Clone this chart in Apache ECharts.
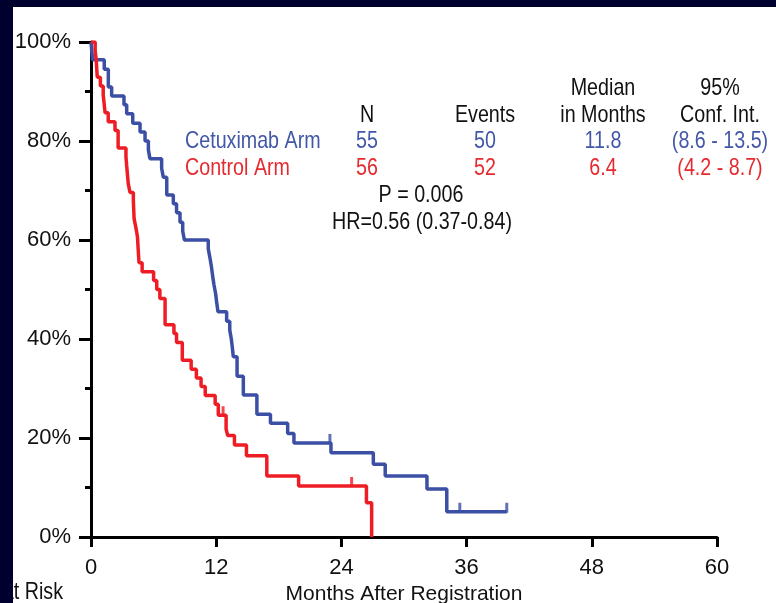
<!DOCTYPE html>
<html>
<head>
<meta charset="utf-8">
<script src="https://cdn.jsdelivr.net/npm/echarts@6/dist/echarts.min.js"></script>
<style>
html,body{margin:0;padding:0;background:#00002e;overflow:hidden;}
#c{width:776px;height:603px;}
</style>
</head>
<body>
<div id="c"></div>
<script>
// ---- data ----
const xTicks = [0, 12, 24, 36, 48, 60];
const yTicks = [0, 20, 40, 60, 80, 100];

const blueTimes = [0, 0.15, 1.27, 1.66, 1.98, 3.16, 3.42, 4.0, 4.7, 5.18, 5.5, 5.65, 6.77, 6.93, 7.26, 7.89, 8.2, 8.53, 8.79, 8.95, 11.24, 11.4, 11.55, 11.66, 11.79, 11.95, 12.05, 12.17, 13.0, 13.3, 13.45, 13.55, 13.64, 14.0, 14.6, 15.9, 17.2, 18.85, 19.45, 23.0, 27.06, 28.2, 32.2, 34.1, 39.85];
const blueSurv = [100, 96.4, 94.5, 90.9, 89.1, 87.3, 85.5, 83.6, 81.8, 80.0, 78.2, 76.4, 74.5, 72.7, 69.1, 67.3, 65.5, 63.6, 61.8, 60.0, 58.2, 56.4, 54.5, 52.7, 50.9, 49.1, 47.3, 45.5, 43.6, 41.8, 40.0, 38.2, 36.4, 32.5, 28.7, 24.8, 23.0, 20.9, 19.0, 17.0, 14.7, 12.3, 9.7, 5.1, 5.1];
const blueCensorTimes = [22.9, 35.35, 39.85];
const blueCensorSurv = [19.0, 5.1, 5.1];

const redTimes = [0, 0.4, 0.5, 0.6, 0.9, 1.17, 1.35, 1.65, 2.3, 2.6, 3.35, 3.42, 3.57, 3.74, 4.06, 4.13, 4.3, 4.45, 4.6, 4.9, 6.0, 6.3, 6.6, 7.1, 7.95, 8.2, 8.75, 9.6, 10.1, 10.55, 10.95, 11.9, 12.2, 12.95, 13.1, 13.75, 14.9, 16.85, 19.9, 26.4, 26.9];
const redSurv = [100, 98.2, 96.4, 92.9, 91.1, 89.3, 85.7, 83.9, 82.1, 78.6, 76.8, 75.0, 71.4, 69.6, 67.9, 64.3, 62.5, 60.7, 55.4, 53.6, 51.8, 50.0, 48.2, 42.9, 41.1, 39.3, 35.7, 33.9, 32.1, 30.4, 28.6, 26.8, 24.6, 21.8, 20.5, 18.6, 16.4, 12.3, 10.3, 6.9, 0];
const redCensorTimes = [12.66, 24.98];
const redCensorSurv = [24.6, 10.3];

const armNames = ['Cetuximab Arm', 'Control Arm'];
const armN = ['55', '56'];
const armEvents = ['50', '52'];
const armMedian = ['11.8', '6.4'];
const armCI = ['(8.6 - 13.5)', '(4.2 - 8.7)'];
const statLines = ['P = 0.006', 'HR=0.56 (0.37-0.84)'];

// ---- styling ----
const FONT = "'Liberation Sans', Arial, sans-serif";
const BLUE = '#3b4fa5';
const RED = '#ee1d25';
const BLUE_TXT = '#4257a8';
const RED_TXT = '#e52a30';
const INK = '#111111';
const NAVY = '#00002e';
const NARROW = 0.82;

const zip = (a, b) => a.map((v, i) => [v, b[i]]);

const chart = echarts.init(document.getElementById('c'), null, {renderer: 'canvas'});

function txt(text, x, y, color, align) {
  return {
    type: 'text', z: 50, x: x, y: y, scaleX: NARROW,
    style: {
      text: text, x: 0, y: 0, fill: color,
      font: '24px ' + FONT,
      textAlign: align || 'center', textVerticalAlign: 'middle'
    }
  };
}

const colX = [367, 485, 603, 720];
const rowY = [141, 168];
const graphics = [
  {type: 'rect', z: -10, shape: {x: 13, y: 7, width: 763, height: 596}, style: {fill: '#ffffff'}},
  txt('Median', colX[2], 88, INK),
  txt('95%', colX[3], 88, INK),
  txt('N', colX[0], 115, INK),
  txt('Events', colX[1], 115, INK),
  txt('in Months', colX[2], 115, INK),
  txt('Conf. Int.', colX[3], 115, INK),
  txt(statLines[0], 421, 195, INK),
  txt(statLines[1], 422, 222, INK),
  txt('At Risk', 63, 592, INK, 'right'),
  {type: 'rect', z: 100, shape: {x: 0, y: 0, width: 13, height: 603}, style: {fill: NAVY}}
];
const rowColors = [BLUE_TXT, RED_TXT];
for (let r = 0; r < 2; r++) {
  graphics.push(txt(armNames[r], 185, rowY[r], rowColors[r], 'left'));
  graphics.push(txt(armN[r], colX[0], rowY[r], rowColors[r]));
  graphics.push(txt(armEvents[r], colX[1], rowY[r], rowColors[r]));
  graphics.push(txt(armMedian[r], colX[2], rowY[r], rowColors[r]));
  graphics.push(txt(armCI[r], colX[3], rowY[r], rowColors[r]));
}

chart.setOption({
  backgroundColor: NAVY,
  animation: false,
  grid: {left: 91, right: 59, top: 42, bottom: 66, containLabel: false, outerBoundsMode: 'none'},
  xAxis: {
    type: 'value', min: 0, max: 60, interval: 12,
    name: 'Months After Registration', nameLocation: 'middle', nameGap: 45,
    nameTextStyle: {fontFamily: FONT, fontSize: 21, color: INK},
    axisLine: {show: true, onZero: false, lineStyle: {color: '#000', width: 3}},
    axisTick: {show: true, inside: false, length: 10, lineStyle: {color: '#000', width: 3}},
    axisLabel: {margin: 20, fontFamily: FONT, fontSize: 22, color: INK,
      formatter: v => xTicks.includes(v) ? String(v) : ''},
    splitLine: {show: false}
  },
  yAxis: {
    type: 'value', min: 0, max: 100, interval: 20,
    axisLine: {show: true, onZero: false, lineStyle: {color: '#000', width: 3}},
    axisTick: {show: true, length: 12, lineStyle: {color: '#000', width: 3}},
    minorTick: {show: true, splitNumber: 2, length: 6, lineStyle: {color: '#000', width: 3}},
    axisLabel: {margin: 20, fontFamily: FONT, fontSize: 22, color: INK,
      formatter: v => yTicks.includes(v) ? v + '%' : ''},
    splitLine: {show: false}
  },
  graphic: graphics,
  series: [
    {type: 'line', name: armNames[0], step: 'end', data: zip(blueTimes, blueSurv),
      showSymbol: false, lineStyle: {color: BLUE, width: 3.5}, z: 3},
    {type: 'line', name: armNames[1], step: 'end', data: zip(redTimes, redSurv),
      showSymbol: false, lineStyle: {color: RED, width: 3.5}, z: 4},
    {type: 'scatter', data: zip(blueCensorTimes, blueCensorSurv), symbol: 'rect',
      symbolSize: [3, 10], symbolOffset: [0, -4], itemStyle: {color: BLUE}, z: 3},
    {type: 'scatter', data: zip(redCensorTimes, redCensorSurv), symbol: 'rect',
      symbolSize: [3, 10], symbolOffset: [0, -4], itemStyle: {color: RED}, z: 4}
  ]
});
</script>
</body>
</html>
